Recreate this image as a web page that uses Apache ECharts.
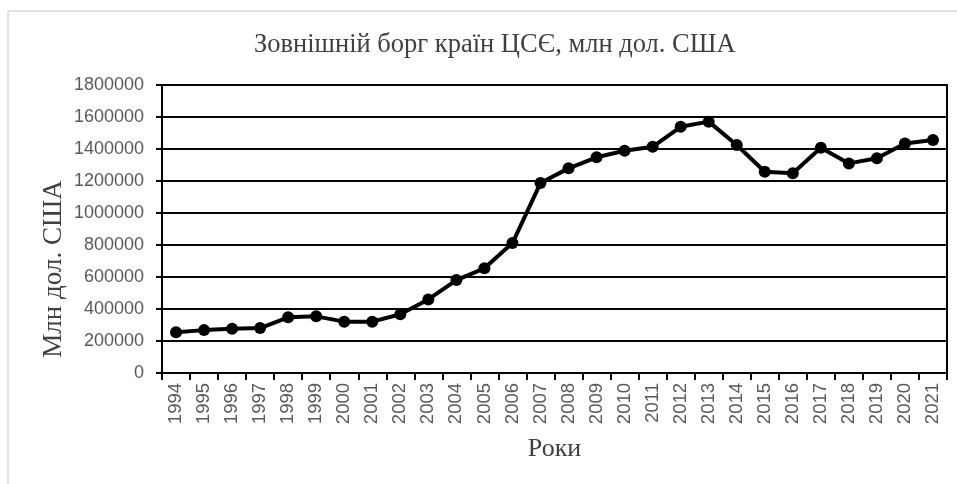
<!DOCTYPE html>
<html>
<head>
<meta charset="utf-8">
<script src="https://cdn.jsdelivr.net/npm/echarts@6/dist/echarts.min.js"></script>
<style>
  html, body { margin: 0; padding: 0; background: #fff; }
  #main { width: 957px; height: 484px; }
</style>
</head>
<body>
<div id="main"></div>
<script>
// роки та значення зовнішнього боргу (млн дол. США)
var years = ['1994', '1995', '1996', '1997', '1998', '1999', '2000', '2001', '2002', '2003',
  '2004', '2005', '2006', '2007', '2008', '2009', '2010', '2011', '2012', '2013',
  '2014', '2015', '2016', '2017', '2018', '2019', '2020', '2021']
var debt = [254000, 268000, 277000, 281000, 348000, 354000, 321000, 321000, 367000, 460000,
  581000, 654000, 812000, 1187000, 1279000, 1348000, 1389000, 1414000, 1539000, 1571000,
  1425000, 1258000, 1248000, 1408000, 1310000, 1342000, 1435000, 1456000]
var yMin = 0
var yMax = 1800000
var yStep = 200000

var chart = echarts.init(document.getElementById('main'))

var option = {
  backgroundColor: '#fff',
  animation: false,
  title: {
    text: 'Зовнішній борг країн ЦСЄ, млн дол. США',
    left: 249,
    top: 27,
    textStyle: {
      fontFamily: 'Liberation Serif',
      fontWeight: 'normal',
      fontSize: 26.5,
      color: '#404040'
    }
  },
  graphic: [{
    type: 'rect',
    shape: { x: 8, y: 11, width: 960, height: 480 },
    style: { fill: 'none', stroke: '#d9d9d9', lineWidth: 1.5 },
    silent: true
  }, {
    type: 'text',
    x: 54,
    y: 269,
    rotation: Math.PI / 2,
    style: {
      text: 'Млн дол. США',
      font: '27px "Liberation Serif"',
      fill: '#404040',
      textAlign: 'center',
      textVerticalAlign: 'middle'
    }
  }],
  grid: {
    left: 162,
    right: 10,
    top: 85,
    bottom: 111,
    show: true,
    borderColor: '#000',
    borderWidth: 2
  },
  xAxis: {
    type: 'category',
    data: years,
    boundaryGap: true,
    name: 'Роки',
    nameLocation: 'middle',
    nameGap: 63,
    nameTextStyle: {
      fontFamily: 'Liberation Serif',
      fontSize: 26,
      color: '#404040'
    },
    axisLine: { lineStyle: { color: '#000', width: 2 } },
    axisTick: { show: true, interval: 0, length: 7, lineStyle: { color: '#000', width: 2 } },
    axisLabel: {
      interval: 0,
      rotate: 90,
      margin: 10,
      fontFamily: 'Liberation Sans',
      fontSize: 18.5,
      color: '#595959'
    },
    splitLine: { show: false }
  },
  yAxis: {
    type: 'value',
    min: yMin,
    max: yMax,
    interval: yStep,
    axisLine: { show: true, lineStyle: { color: '#000', width: 2 } },
    axisTick: { show: true, length: 6, lineStyle: { color: '#000', width: 2 } },
    axisLabel: {
      margin: 18,
      fontFamily: 'Liberation Sans',
      fontSize: 18,
      color: '#595959',
      formatter: function (v) { return String(v) }
    },
    splitLine: { lineStyle: { color: '#000', width: 1.8 } }
  },
  series: [{
    type: 'line',
    data: debt,
    symbol: 'circle',
    symbolSize: 12,
    lineStyle: { color: '#000', width: 4 },
    itemStyle: { color: '#000' }
  }]
}

chart.setOption(option)
</script>
</body>
</html>
